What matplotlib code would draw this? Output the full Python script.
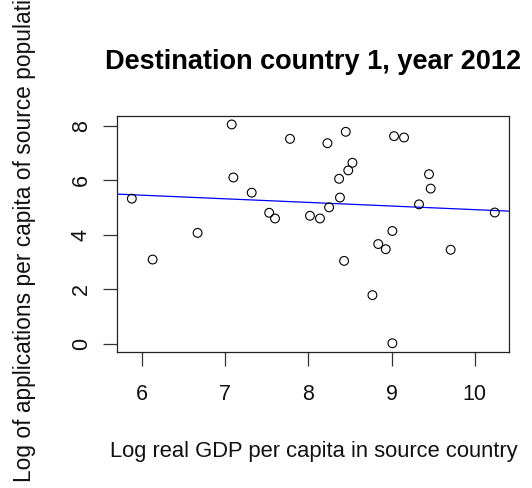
import numpy as np
import matplotlib
matplotlib.use("Agg")
import matplotlib.pyplot as plt

plt.rcParams['font.family'] = ['Liberation Sans', 'DejaVu Sans']

# Log real GDP per capita in source country
gdp = [5.88, 6.13, 6.67, 7.08, 7.10, 7.32, 7.53, 7.60, 7.78, 8.02,
       8.14, 8.23, 8.25, 8.45, 8.53, 8.48, 8.37, 8.38, 8.43, 9.03,
       9.15, 9.01, 8.84, 8.93, 8.77, 9.01, 9.45, 9.47, 9.33, 9.71,
       10.24]
# Log of applications per capita of source population
apps = [5.33, 3.09, 4.07, 8.06, 6.11, 5.55, 4.81, 4.60, 7.53, 4.70,
        4.60, 7.37, 5.01, 7.79, 6.65, 6.37, 6.06, 5.37, 3.04, 7.63,
        7.58, 4.14, 3.66, 3.47, 1.78, 0.01, 6.23, 5.70, 5.12, 3.45,
        4.82]

title = "Destination country 1, year 2012"
xlabel = "Log real GDP per capita in source country"
ylabel = "Log of applications per capita of source population"
xticks = [6, 7, 8, 9, 10]
yticks = [0, 2, 4, 6, 8]

W, H = 532, 488
fig = plt.figure(figsize=(W / 100, H / 100), dpi=100)
L, R, T, B = 117.3, 509.3, 115.7, 352.0
ax = fig.add_axes([L / W, 1 - B / H, (R - L) / W, (B - T) / H])

x = np.array(gdp)
y = np.array(apps)
ax.scatter(x, y, s=40, facecolors='none', edgecolors='black', linewidths=0.8, zorder=3)

# least-squares fit, drawn across the whole panel
slope, intercept = np.polyfit(x, y, 1)
ax.axline((0, intercept), slope=slope, color='#0000ff', lw=0.9, zorder=2)

# R-style 4% padding around the data range
def padded(v):
    lo, hi = min(v), max(v)
    d = (hi - lo) * 0.04
    return lo - d, hi + d

ax.set_xlim(*padded(gdp))
ax.set_ylim(*padded(apps))

ax.set_xticks(xticks)
ax.set_yticks(yticks)
ax.set_xticklabels([str(t) for t in xticks])
ax.set_yticklabels([str(t) for t in yticks])
for s in ax.spines.values():
    s.set_linewidth(0.9)
    s.set_color('#222222')
ax.tick_params(axis='both', length=10, width=0.9, color='#333333',
               labelsize=15.5, labelcolor='#111111')
ax.tick_params(axis='x', pad=13)
ax.tick_params(axis='y', pad=16, labelrotation=90)
for lab in ax.get_yticklabels():
    lab.set_verticalalignment('center')
    lab.set_horizontalalignment('center')

fig.text(313.3 / W, 1 - 69.3 / H, title, ha='center', va='baseline',
         fontsize=19.5, fontweight='bold', color='black')
fig.text(313.7 / W, 1 - 457.3 / H, xlabel, ha='center', va='baseline',
         fontsize=15.8, color='#111111')
fig.text(25 / W, 1 - 228.0 / H, ylabel, ha='center', va='center',
         rotation=90, fontsize=16.4, color='#111111')

fig.savefig('out.png', dpi=100)
